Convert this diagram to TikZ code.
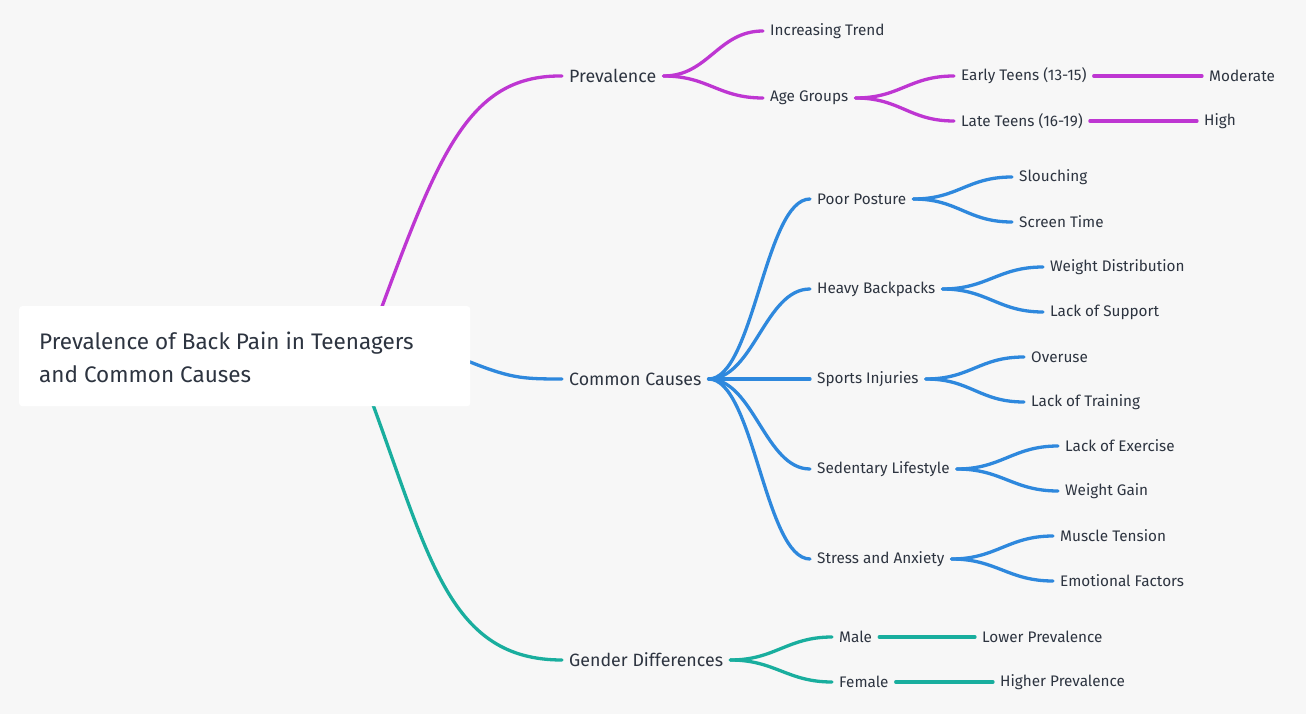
\documentclass[tikz,border=0pt]{standalone}
\usepackage{fontspec}
\setmainfont{Fira Sans}
\begin{document}
\begin{tikzpicture}[x=1pt,y=-1pt,
  lbl/.style={anchor=west,inner sep=0pt,text=txt,font=\fontsize{15.3}{18}\selectfont},
  big/.style={anchor=west,inner sep=0pt,text=txt,font=\fontsize{17.8}{21}\selectfont},
  con/.style={line width=3.3pt,line cap=round}]
\definecolor{bg}{HTML}{F7F7F7}
\definecolor{txt}{HTML}{2D3440}
\definecolor{colm}{HTML}{BE36D2}
\definecolor{colb}{HTML}{2E88DD}
\definecolor{colt}{HTML}{19AE9E}
\fill[bg] (0,0) rectangle (1306,714);
\useasboundingbox (0,0) rectangle (1306,714);
\coordinate (sm) at (380,312);
\coordinate (sb) at (465,360);
\coordinate (st) at (372,402);
\node[big] (p) at (569,76) {Prevalence};
\node[big] (c) at (569,379) {Common Causes};
\node[big] (g) at (569,660) {Gender Differences};
\draw[con,colm] (sm) .. controls (440,150) and (470,75) .. ([xshift=-7]p.west);
\draw[con,colb] (sb) .. controls (510,378) and (520,379) .. ([xshift=-7]c.west);
\draw[con,colt] (st) .. controls (430,560) and (450,660) .. ([xshift=-7]g.west);
\node[fill=white,rounded corners=3pt,minimum width=451pt,minimum height=100pt,anchor=north west] (root) at (19,306) {};
\node[anchor=west,align=left,inner sep=0pt,text=txt,font=\fontsize{22.5}{33}\selectfont] (rt) at (39,357) {Prevalence of Back Pain in Teenagers\\and Common Causes};
\newcommand{\cv}[3]{\draw[con,#1] ([xshift=7]#2.east) .. controls +(45,0) and +(-45,0) .. ([xshift=-7]#3.west);}
\newcommand{\st}[3]{\draw[con,#1] ([xshift=7]#2.east) -- ([xshift=-7]#3.west);}
% prevalence
\node[lbl] (it) at (770,31) {Increasing Trend};
\node[lbl] (ag) at (770,98) {Age Groups};
\node[lbl] (et) at (961,76) {Early Teens (13-15)};
\node[lbl] (mo) at (1209,76) {Moderate};
\node[lbl] (lt) at (961,121) {Late Teens (16-19)};
\node[lbl] (hi) at (1204,121) {High};
\cv{colm}{p}{it}\cv{colm}{p}{ag}\cv{colm}{ag}{et}\cv{colm}{ag}{lt}\st{colm}{et}{mo}\st{colm}{lt}{hi}
% causes
\node[lbl] (pp) at (817,199) {Poor Posture};
\node[lbl] (sl) at (1019,177) {Slouching};
\node[lbl] (sc) at (1019,222) {Screen Time};
\node[lbl] (hb) at (817,289) {Heavy Backpacks};
\node[lbl] (wd) at (1050,267) {Weight Distribution};
\node[lbl] (ls) at (1050,312) {Lack of Support};
\node[lbl] (si) at (817,379) {Sports Injuries};
\node[lbl] (ov) at (1031,357) {Overuse};
\node[lbl] (ltr) at (1031,402) {Lack of Training};
\node[lbl] (sd) at (817,469) {Sedentary Lifestyle};
\node[lbl] (le) at (1065,446) {Lack of Exercise};
\node[lbl] (wg) at (1065,491) {Weight Gain};
\node[lbl] (sa) at (817,559) {Stress and Anxiety};
\node[lbl] (mt) at (1060,536) {Muscle Tension};
\node[lbl] (ef) at (1060,581) {Emotional Factors};
\cv{colb}{c}{pp}\cv{colb}{c}{hb}\cv{colb}{c}{si}\cv{colb}{c}{sd}\cv{colb}{c}{sa}
\cv{colb}{pp}{sl}\cv{colb}{pp}{sc}\cv{colb}{hb}{wd}\cv{colb}{hb}{ls}\cv{colb}{si}{ov}\cv{colb}{si}{ltr}
\cv{colb}{sd}{le}\cv{colb}{sd}{wg}\cv{colb}{sa}{mt}\cv{colb}{sa}{ef}
% gender
\node[lbl] (ma) at (839,637) {Male};
\node[lbl] (lp) at (982,637) {Lower Prevalence};
\node[lbl] (fe) at (839,682) {Female};
\node[lbl] (hp) at (1000,682) {Higher Prevalence};
\cv{colt}{g}{ma}\cv{colt}{g}{fe}\st{colt}{ma}{lp}\st{colt}{fe}{hp}
\end{tikzpicture}
\end{document}
